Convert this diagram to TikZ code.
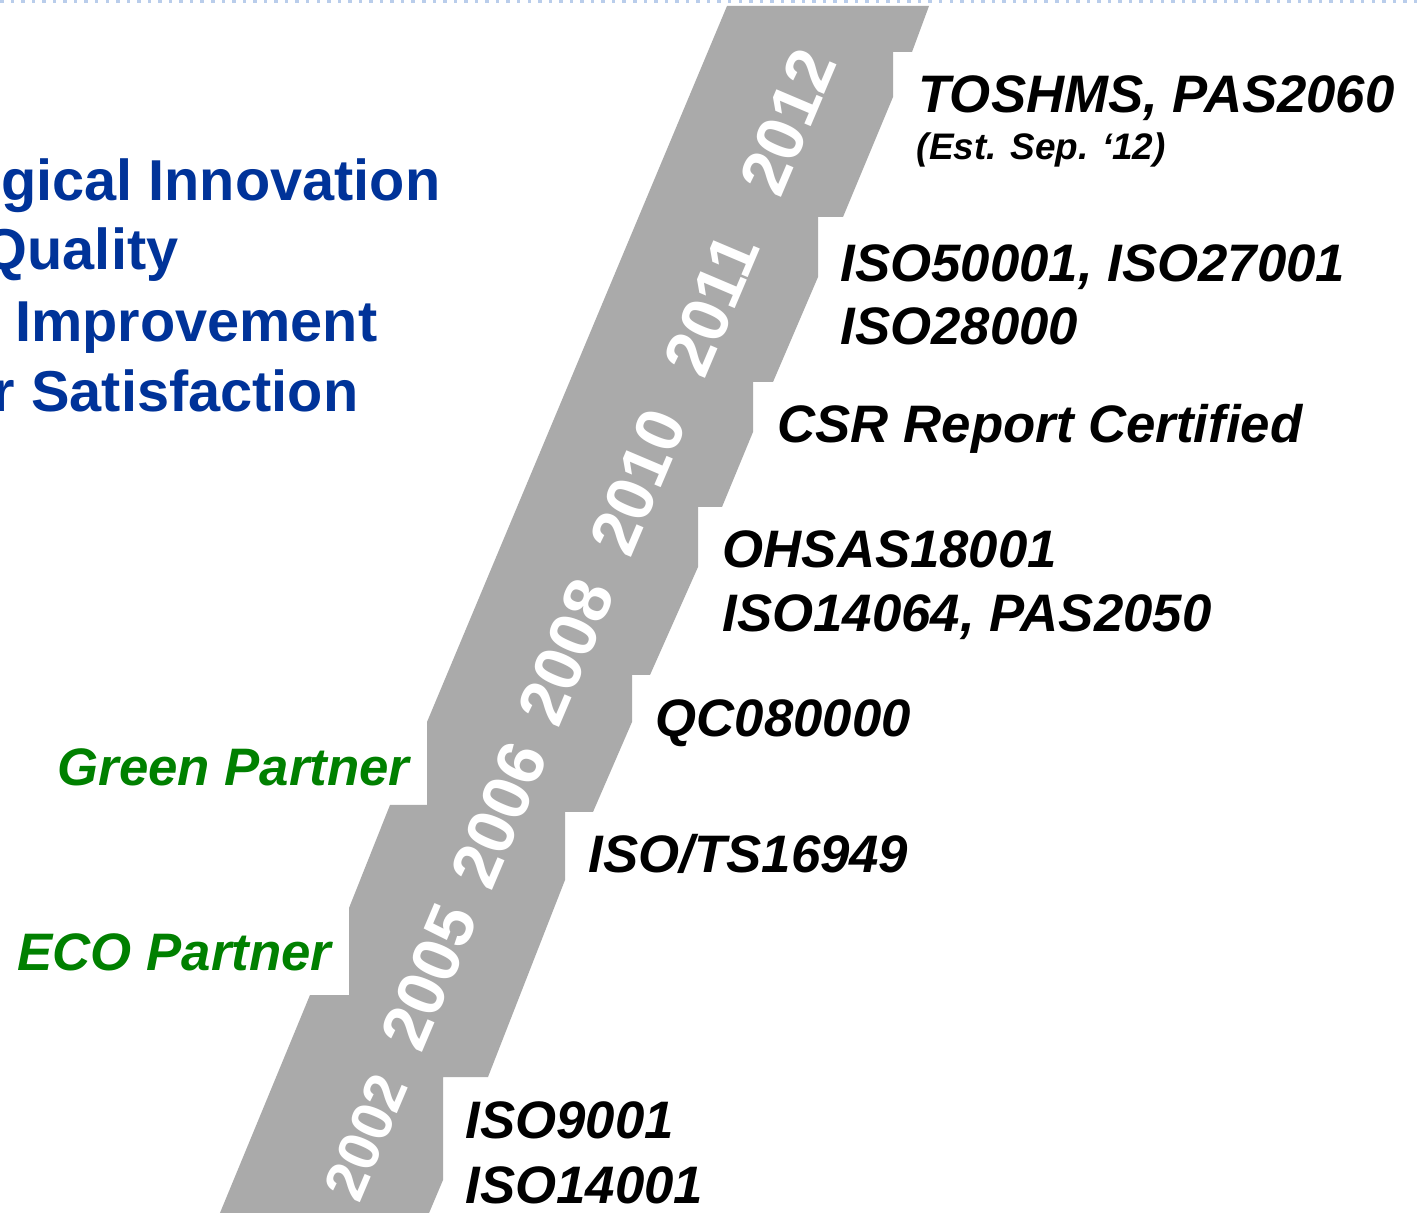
\documentclass[tikz,border=0pt]{standalone}
\usepackage{fontspec}
\setmainfont{Liberation Sans}
\definecolor{bandgray}{RGB}{170,170,170}
\definecolor{goalblue}{RGB}{0,51,153}
\definecolor{partnergreen}{RGB}{0,128,0}
\definecolor{edgeblue}{RGB}{185,205,235}

\begin{document}
\begin{tikzpicture}[x=0.01cm,y=-0.01cm,
  cert/.style={anchor=base west,inner sep=0pt,font=\fontsize{15}{18}\selectfont\bfseries\itshape},
  note/.style={anchor=base west,inner sep=0pt,font=\fontsize{10.5}{13}\selectfont\bfseries\itshape},
  year/.style={text=white,rotate=67,inner sep=0pt,font=\fontsize{19}{23}\selectfont\bfseries},
  goal/.style={anchor=base east,inner sep=0pt,text=goalblue,font=\fontsize{16.4}{20}\selectfont\bfseries},
  partner/.style={anchor=base west,inner sep=0pt,text=partnergreen,font=\fontsize{15}{18}\selectfont\bfseries\itshape}]
\useasboundingbox (0,0) rectangle (1418,1213);
\fill[white] (0,0) rectangle (1418,1213);
\draw[edgeblue,dotted,line width=1pt] (0,1) -- (1418,1);

% the stepped band
\fill[bandgray] (727,6) -- (929,6) -- (912,52) -- (893,52) -- (893,97)
  -- (843,217) -- (818,217) -- (818,277) -- (773,382) -- (753,382)
  -- (753,432) -- (722,507) -- (698,507) -- (698,567) -- (650,675)
  -- (632,675) -- (632,722) -- (593,812) -- (565,812) -- (565,880)
  -- (488,1077) -- (443,1077) -- (443,1180) -- (424,1225) -- (215,1225)
  -- (310,995) -- (349,995) -- (349,908) -- (390,805) -- (427,805)
  -- (427,722) -- cycle;

% years
\node[year] (y2012) at (788,122) {2012};
\node[year] (y2011) at (712,305) {2011};
\node[year] (y2010) at (638,482) {2010};
\node[year] (y2008) at (566,652) {2008};
\node[year] (y2006) at (499,815) {2006};
\node[year] (y2005) at (429,977) {2005};
\node[year,font=\fontsize{16.5}{20}\selectfont\bfseries] (y2002) at (366,1137) {2002};

% certifications
\node[cert] (toshms) at (918,113) {TOSHMS, PAS2060};
\node[note] (est) at (916,160) {(Est. Sep. ‘12)};
\node[cert] (iso50001) at (840,282) {ISO50001, ISO27001};
\node[cert] (iso28000) at (840,345) {ISO28000};
\node[cert] (csr) at (777,443) {CSR Report Certified};
\node[cert] (ohsas) at (722,568) {OHSAS18001};
\node[cert] (iso14064) at (722,632) {ISO14064, PAS2050};
\node[cert] (qc) at (655,737) {QC080000};
\node[cert] (isots) at (588,873) {ISO/TS16949};
\node[cert] (iso9001) at (465,1138) {ISO9001};
\node[cert] (iso14001) at (465,1203) {ISO14001};

% partners
\node[partner] (green) at (57,785) {Green Partner};
\node[partner] (eco) at (17,970) {ECO Partner};

% goals
\node[goal] (innov) at (441,201) {gical Innovation};
\node[goal] (quality) at (179,270) {Quality};
\node[goal] (improve) at (378,342) {Improvement};
\node[goal] (satisf) at (359,412) {r Satisfaction};
\end{tikzpicture}
\end{document}
